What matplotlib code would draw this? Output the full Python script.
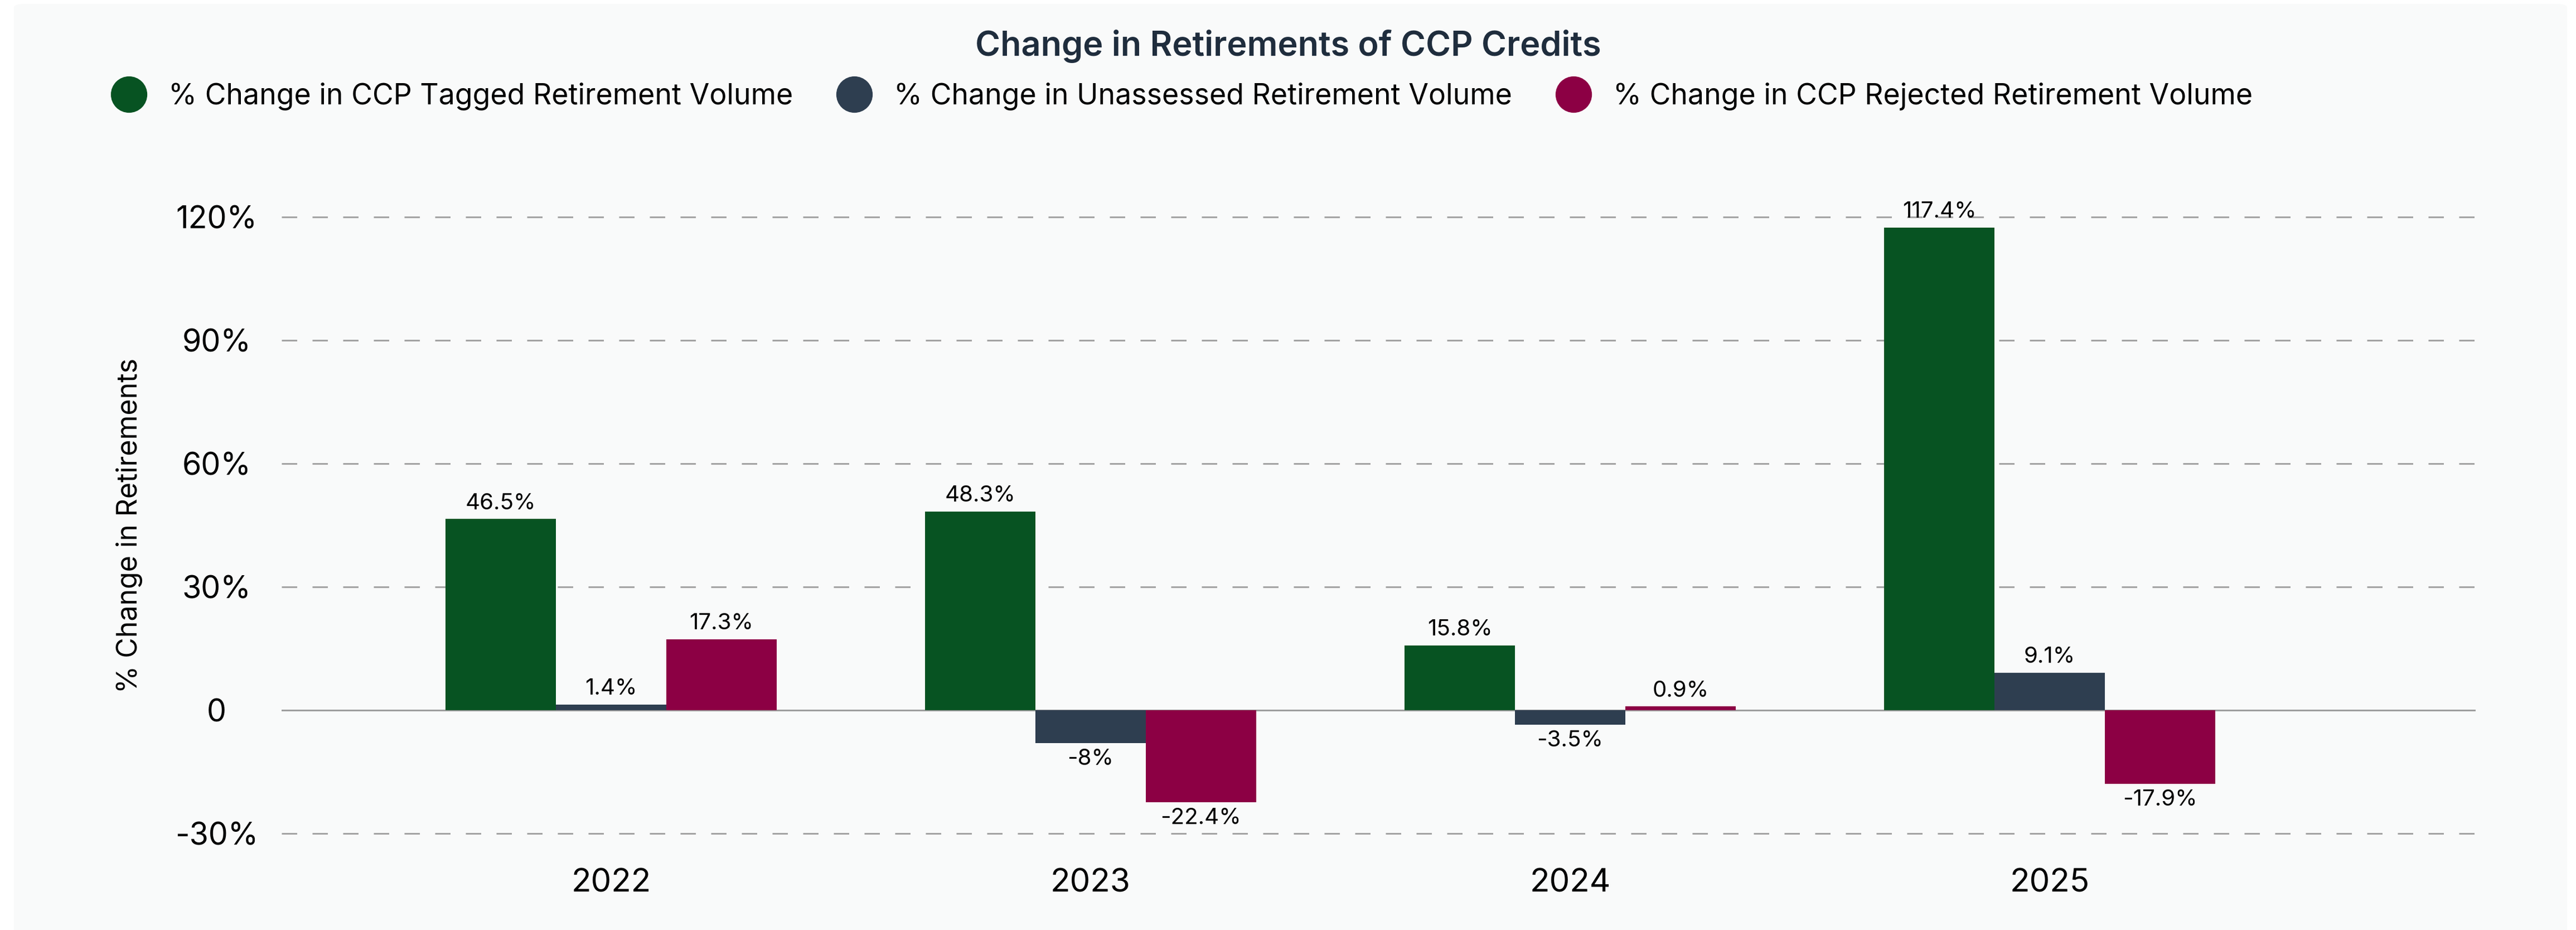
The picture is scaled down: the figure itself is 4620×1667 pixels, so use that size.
import matplotlib.pyplot as plt
import numpy as np
from matplotlib.patches import FancyBboxPatch
from matplotlib.lines import Line2D

plt.rcParams['font.family'] = ['Inter', 'DejaVu Sans']

years = ['2022', '2023', '2024', '2025']
series_names = [
    '% Change in CCP Tagged Retirement Volume',
    '% Change in Unassessed Retirement Volume',
    '% Change in CCP Rejected Retirement Volume',
]
tagged = [46.5, 48.3, 15.8, 117.4]
unassessed = [1.4, -8, -3.5, 9.1]
rejected = [17.3, -22.4, 0.9, -17.9]
yticks = [-30, 0, 30, 60, 90, 120]
ytick_labels = ['-30%', '0', '30%', '60%', '90%', '120%']

colors = ['#075322', '#2e3e50', '#8c0044']
W, H = 4620, 1667

fig = plt.figure(figsize=(W / 100, H / 100), dpi=100)
fig.patch.set_facecolor('white')

# light rounded card behind everything
card = FancyBboxPatch((25 / W, -0.05), (4604 - 25) / W, 1 - 7 / H + 0.05,
                      boxstyle='round,pad=0,rounding_size=0.004',
                      transform=fig.transFigure, facecolor='#f9fafa',
                      edgecolor='none', zorder=-10)
fig.patches.append(card)

ymin, ymax = -31, 121
px_per_unit = (1494 - 389) / 150
top_px = 389 - (ymax - 120) * px_per_unit
bot_px = 1494 + (-30 - ymin) * px_per_unit
ax = fig.add_axes([505 / W, 1 - bot_px / H, (4440 - 505) / W, (bot_px - top_px) / H])
ax.set_facecolor('none')
ax.set_zorder(5)

x = np.arange(len(years))
width = 0.23
for i, (vals, name) in enumerate(zip([tagged, unassessed, rejected], series_names)):
    bars = ax.bar(x + (i - 1) * width, vals, width, color=colors[i], label=name, zorder=3)
    ax.bar_label(bars, labels=[f'{v:g}%' for v in vals], padding=7,
                 fontsize=29, color='black')

ax.set_xlim(-0.687, 3.888)
ax.set_ylim(ymin, ymax)

for y in yticks:
    if y == 0:
        ax.axhline(y, color='#9e9e9e', lw=2.2, zorder=1)
    else:
        ax.axhline(y, color='#a3a3a3', lw=2.2, ls=(0, (9, 9)), zorder=1)

ax.set_yticks(yticks)
ax.set_yticklabels(ytick_labels)
ax.set_xticks(x)
ax.set_xticklabels(years)
ax.tick_params(axis='y', length=0, pad=84, labelsize=40)
ax.tick_params(axis='x', length=0, pad=40, labelsize=42)
for lab in ax.get_yticklabels():
    lab.set_horizontalalignment('center')

for s in ax.spines.values():
    s.set_visible(False)

fig.text(232 / W, 1 - 942 / H, '% Change in Retirements', rotation=90,
         ha='center', va='center', fontsize=36)

fig.text(0.5, 1 - 100 / H, 'Change in Retirements of CCP Credits', ha='center',
         va='baseline', fontsize=44, fontweight='semibold', color='#1f2d3d')

handles = [Line2D([], [], ls='none', marker='o', markersize=46, color=c) for c in colors]
fig.legend(handles, series_names, loc='center left',
           bbox_to_anchor=(205 / W, 1 - 173 / H), ncol=3, frameon=False,
           fontsize=37.3, handlelength=1.0, handletextpad=0.87, columnspacing=1.62,
           borderpad=0, borderaxespad=0)

fig.savefig('out.png', dpi=100, facecolor=fig.get_facecolor())
